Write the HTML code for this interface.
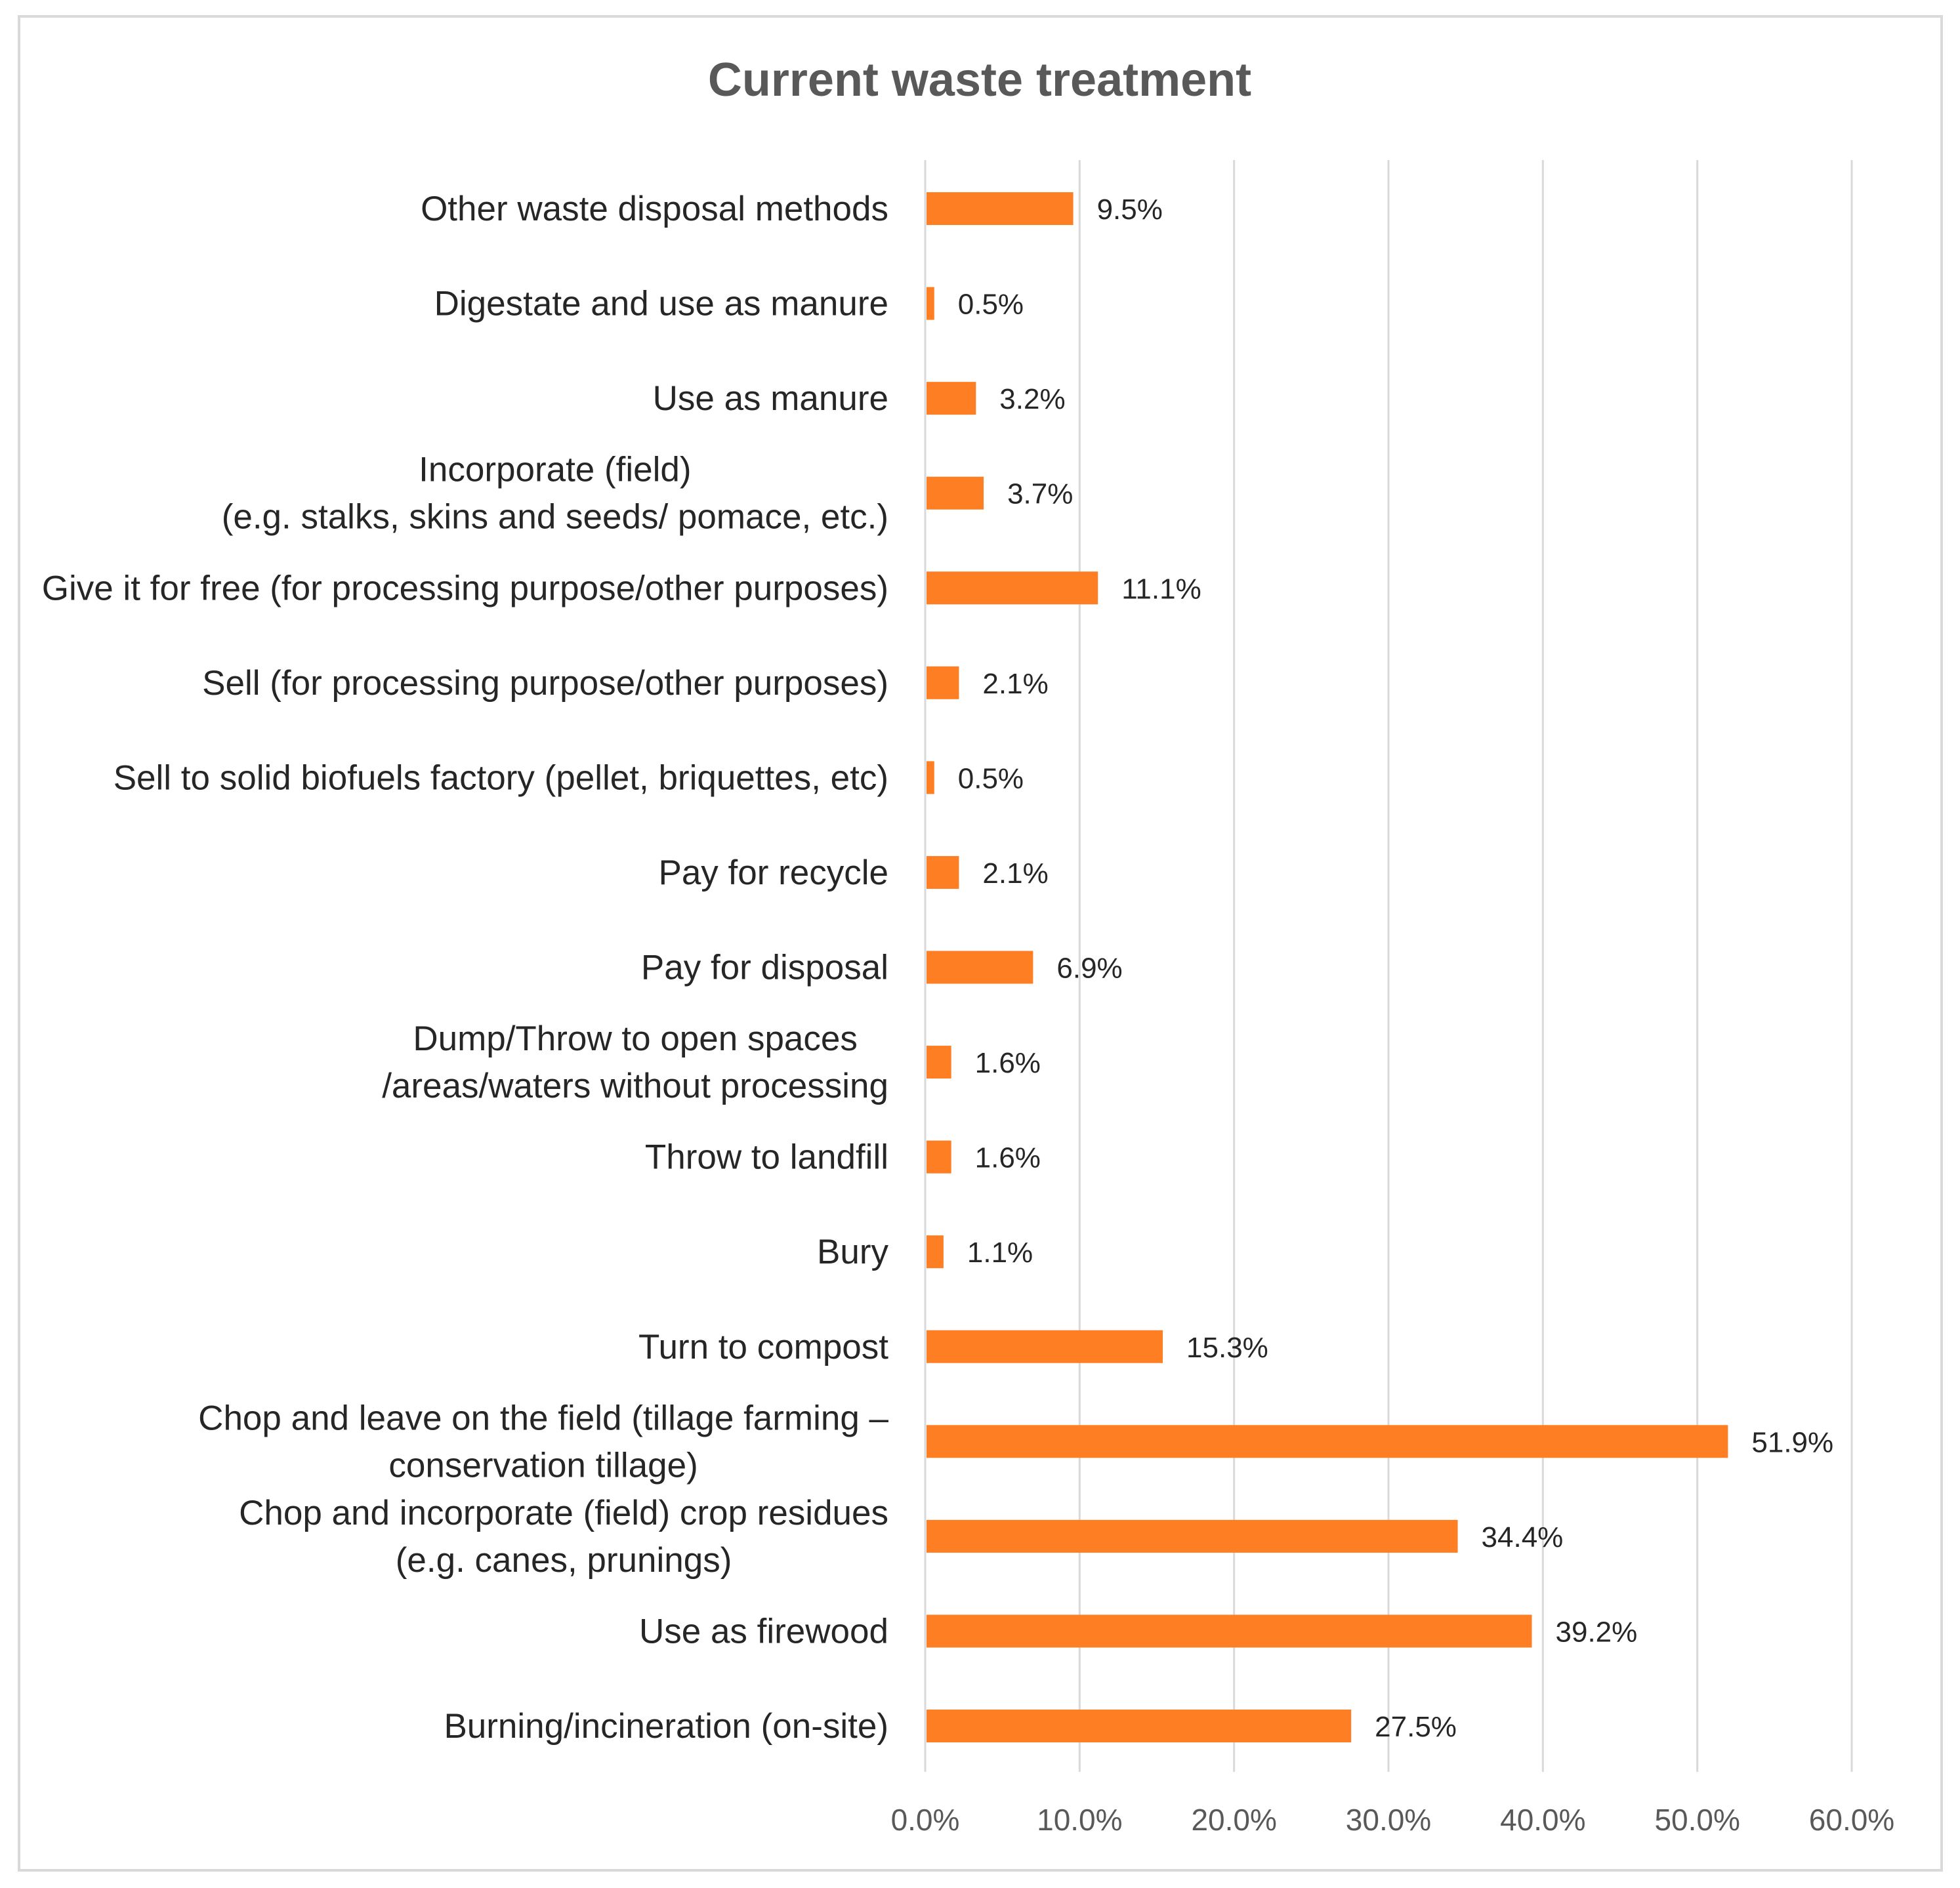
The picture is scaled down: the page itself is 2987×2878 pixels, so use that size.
<!DOCTYPE html>
<html><head><meta charset="utf-8"><style>
html,body{margin:0;padding:0;background:#fff;}
svg{display:block;}
text{font-family:"Liberation Sans",sans-serif;}
</style></head><body>
<svg id="chart" width="2987" height="2878" viewBox="0 0 2987 2878">
<rect x="29" y="25" width="2930" height="2826" fill="#fff" stroke="#d9d9d9" stroke-width="4"/>
<text x="1493" y="146" text-anchor="middle" font-size="72" font-weight="600" fill="#595959">Current waste treatment</text>
<g id="grid"></g><g id="bars"></g><g id="labels"></g><g id="ticks"></g>
</svg>
<script>
const categories = [
 ["Other waste disposal methods"],
 ["Digestate and use as manure"],
 ["Use as manure"],
 ["Incorporate (field)","(e.g. stalks, skins and seeds/ pomace, etc.)"],
 ["Give it for free (for processing purpose/other purposes)"],
 ["Sell (for processing purpose/other purposes)"],
 ["Sell to solid biofuels factory (pellet, briquettes, etc)"],
 ["Pay for recycle"],
 ["Pay for disposal"],
 ["Dump/Throw to open spaces","/areas/waters without processing"],
 ["Throw to landfill"],
 ["Bury"],
 ["Turn to compost"],
 ["Chop and leave on the field (tillage farming \u2013","conservation tillage)"],
 ["Chop and incorporate (field) crop residues","(e.g. canes, prunings)"],
 ["Use as firewood"],
 ["Burning/incineration (on-site)"]
];
const values = [9.5,0.5,3.2,3.7,11.1,2.1,0.5,2.1,6.9,1.6,1.6,1.1,15.3,51.9,34.4,39.2,27.5];
const tickValues = [0,10,20,30,40,50,60];
const tickLabels = ["0.0%","10.0%","20.0%","30.0%","40.0%","50.0%","60.0%"];

const NS="http://www.w3.org/2000/svg";
const X0=1410, X60=2822, TOP=244, BOT=2701, FIRST=318, LAST=2631, BH=50;
const x = v => X0 + (v/60)*(X60-X0);
const y = i => FIRST + i*(LAST-FIRST)/(categories.length-1);
function mk(tag, attrs, parent){const e=document.createElementNS(NS,tag);for(const k in attrs)e.setAttribute(k,attrs[k]);parent.appendChild(e);return e;}
const grid=document.getElementById('grid'), bars=document.getElementById('bars'), labels=document.getElementById('labels'), ticks=document.getElementById('ticks');
tickValues.forEach((t,i)=>{
  const l=mk('line',{x1:x(t),x2:x(t),y1:TOP,y2:BOT,stroke:'#d9d9d9','stroke-width':3},grid);
  
  
  const tx=mk('text',{x:x(t),y:2790,'text-anchor':'middle','font-size':46,fill:'#595959'},ticks);
  tx.textContent=tickLabels[i];
  
  
});
const RIGHT=1354;
categories.forEach((c,i)=>{
  const r=mk('rect',{x:x(0)+2,y:y(i)-BH/2,width:x(values[i])-x(0),height:BH,fill:'#fd7e23'},bars);
  
  
  const v=mk('text',{x:x(values[i])+38,y:y(i)+16,'font-size':44,fill:'#262626'},bars);
  v.textContent=values[i].toFixed(1)+'%';
  
  
  const g=mk('g',{},labels);
  
  
  const n=c.length, lh=72;
  const els=c.map((s,j)=>{const t=mk('text',{x:RIGHT,y:y(i)+18+(j-(n-1)/2)*lh,'font-size':53,fill:'#262626','text-anchor':'end'},g);t.textContent=s;return t;});
  if(n>1){
    const w=Math.max(...els.map(e=>e.getComputedTextLength()));
    const cx=RIGHT-w/2;
    els.forEach(e=>{e.setAttribute('x',cx);e.setAttribute('text-anchor','middle');});
  }
});
</script>
</body></html>
